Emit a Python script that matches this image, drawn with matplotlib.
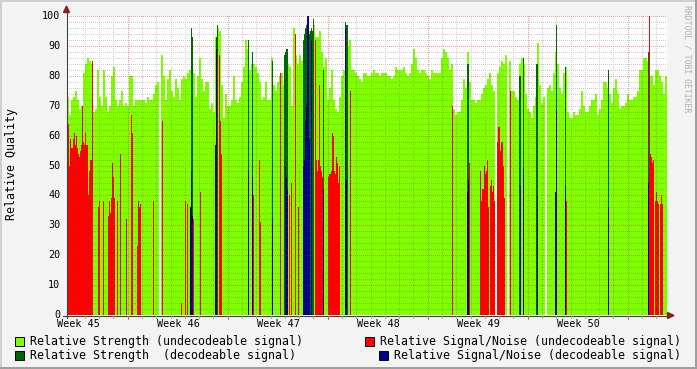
import numpy as np
import matplotlib
matplotlib.use("Agg")
import matplotlib.pyplot as plt
from matplotlib.patches import Rectangle, Polygon
from matplotlib.lines import Line2D

nan = np.nan

# ---------------- data ----------------
ROW_HOURS = 1.68          # one consolidated RRD row (6048 s)
LIME_STEP_ROWS = 2        # strength (undecodeable) sampled every 2 rows

strength_undec = [
    73, 67, 72, 73, 75, 72, 69, 70, 81, 84, 86, 85, 84, 68, 69, 82, 73, 70, 82, 73, 68, 70, 80, 83, 72,
    70, 72, 75, 70, 71, 70, 80, 80, 70, 72, 72, 72, 72, 72, 71, 73, 72, 72, 74, 77, 78, nan, 87, 80, 72,
    79, 82, 75, 73, 79, 76, 72, 79, 80, 79, 81, 82, 82, 81, 73, 80, 86, 79, 75, 78, 78, 69, 71, 68, 93,
    96, 95, 77, 66, 74, 70, 70, 72, 80, 72, 71, 73, 78, 83, 92, 89, 82, 84, 84, 83, 81, 78, 72, 73, 78,
    72, 72, 86, 77, 75, 78, 80, 81, 77, 80, 84, 83, 70, 96, 87, 84, 87, 85, 88, 90, 92, 95, 95, 97, 93,
    93, 95, 88, 83, 86, 72, 76, 82, 72, 69, 68, 73, 80, 82, 88, 90, 92, 82, 82, 81, 80, 79, 78, 81, 81,
    80, 80, 81, 82, 81, 81, 80, 81, 81, 81, 80, 80, 79, 80, 83, 82, 82, 82, 83, 81, 80, 81, 84, 89, 86,
    82, 81, 82, 82, 81, 80, 79, 82, 81, 81, 81, 81, 86, 89, 88, 86, 82, 84, 69, 67, 68, 68, 72, 79, 76,
    88, 78, 72, 72, 71, 72, 72, 74, 76, 77, 79, 81, 77, 75, nan, 81, 83, 85, 84, 87, nan, 85, 75, 75, 73,
    72, 84, 86, 84, 74, 69, 68, 66, 70, 73, 91, 77, 71, 73, nan, 76, 77, 75, 81, 88, 84, 76, 74, 81, 83,
    68, 66, 66, 68, 67, 67, 69, 75, 70, 68, 68, 70, 72, 72, 74, 67, 69, 72, 78, 78, 76, 74, 71, 76, 79,
    74, 69, 70, 70, 71, 74, 72, 72, 73, 73, 75, 82, 82, 86, 86, 85, 80, 80, 77, 82, 82, 80, 78, 74, 80,
]

snr_undec_rows = [
    0, 1, 2, 3, 4, 5, 6, 7, 8, 9, 10, 11, 12, 13, 14, 15, 16, 17, 18, 19, 20, 21, 22, 23, 24, 25,
    31, 32, 36, 41, 42, 43, 44, 45, 46, 47, 50, 53, 59, 64, 65, 70, 71, 72, 73, 86, 95,
    114, 118, 120, 126, 133, 152, 153, 154, 186, 192, 193,
    213, 222, 224, 228, 231, 248, 249, 250, 251, 252, 253, 254, 255,
    261, 262, 263, 264, 265, 266, 267, 268, 269, 270, 271, 272, 283,
    385, 402, 413, 414, 415, 416, 417, 418, 419, 420, 421, 423, 424, 425, 426, 427,
    430, 431, 432, 433, 434, 435, 436, 437, 443, 499,
    582, 583, 584, 585, 586, 588, 589, 590, 591, 593, 594, 595,
]
snr_undec_vals = [
    58, 64, 50, 59, 56, 56, 59, 61, 57, 60, 56, 54, 53, 55, 57, 70, 58, 57, 61, 57, 57, 40, 48, 52, 52, 85,
    36, 38, 38, 33, 38, 34, 39, 51, 46, 39, 38, 54, 32, 67, 61, 23, 38, 36, 37, 38, 65,
    4, 38, 37, 32, 41, 87, 65, 54, 40, 52, 31,
    81, 40, 44, 94, 36, 92, 52, 48, 52, 77, 50, 48, 46,
    46, 47, 47, 48, 61, 60, 48, 47, 53, 51, 44, 50, 75,
    70, 51, 48, 38, 42, 42, 50, 47, 48, 52, 36, 43, 45, 41, 43, 38,
    58, 63, 63, 55, 58, 58, 50, 39, 75, 38,
    100, 54, 53, 51, 52, 38, 41, 38, 37, 37, 40, 37,
]

strength_dec_rows = [123, 124, 125, 148, 149, 150, 181, 185, 205, 217, 218, 219, 220,
                     236, 237, 238, 239, 240, 241, 242, 243, 244, 245, 246, 256, 278, 279, 280,
                     400, 401, 452, 453, 456, 469, 470, 488, 489, 498, 541, 581]
strength_dec_vals = [36, 96, 93, 57, 93, 97, 92, 88, 85, 87, 88, 89, 89,
                     92, 94, 96, 97, 100, 100, 94, 95, 96, 95, 99, 82, 98, 97, 97,
                     84, 84, 80, 80, 86, 84, 84, 41, 97, 83, 82, 88]

snr_dec_rows = [123, 124, 125, 148, 149, 181, 185, 205, 218, 219, 220,
                236, 237, 238, 239, 240, 241, 242, 244, 256, 278, 279,
                400, 401, 453, 456, 470, 488, 489, 498, 541, 581]
snr_dec_vals = [36, 48, 33, 57, 89, 48, 46, 32, 50, 46, 42,
                50, 52, 65, 70, 100, 100, 59, 92, 42, 96, 45,
                41, 45, 43, 49, 40, 41, 69, 43, 36, 44]

week_labels = ["Week 45", "Week 46", "Week 47", "Week 48", "Week 49", "Week 50"]
y_ticks = list(range(0, 101, 10))
legend_labels = ["Relative Strength (undecodeable signal)",
                 "Relative Signal/Noise (undecodeable signal)",
                 "Relative Strength  (decodeable signal)",
                 "Relative Signal/Noise (decodeable signal)"]

# ---------------- styling ----------------
C_LIME = "#80FF00"
C_RED = "#FF0000"
C_DKGREEN = "#006600"
C_BLUE = "#00008C"
MONO = "DejaVu Sans Mono"

W, H = 697, 369
AX_L, AX_TOP, AX_W, AX_H = 67, 16, 600, 299
fig = plt.figure(figsize=(W / 100, H / 100), dpi=100, facecolor="#F3F3F3")


def fx(x):
    return x / W


def fy(y):
    return 1 - y / H


ax = fig.add_axes([fx(AX_L), fy(AX_TOP + AX_H), AX_W / W, AX_H / H])
ax.set_facecolor("white")
total_h = 600 * ROW_HOURS
for s in ax.spines.values():
    s.set_visible(False)

# lime area (strength, undecodeable)
sv = np.array(strength_undec, dtype=float)
lx = np.arange(len(sv)) * LIME_STEP_ROWS * ROW_HOURS
m = ~np.isnan(sv)
ax.bar(lx[m], sv[m], width=LIME_STEP_ROWS * ROW_HOURS, align="edge",
       color=C_LIME, linewidth=0, antialiased=False, zorder=1)


def sparse(rows, vals, color, z):
    r = np.array(rows, dtype=float) * ROW_HOURS
    ax.bar(r, vals, width=ROW_HOURS, align="edge", color=color,
           linewidth=0, antialiased=False, zorder=z)


sparse(snr_undec_rows, snr_undec_vals, C_RED, 2)
sparse(strength_dec_rows, strength_dec_vals, C_DKGREEN, 3)
sparse(snr_dec_rows, snr_dec_vals, C_BLUE, 4)

# dotted grid as a pixel overlay
px_per_unit = AX_H / 100.0
px_per_h = AX_W / total_h
grid = np.zeros((AX_H, AX_W, 4))
minor_c = np.array([0.35, 0.35, 0.35, 0.30])
major_c = np.array([0.80, 0.15, 0.15, 0.45])
day_lines = np.arange(30, total_h, 24)
week_lines = np.arange(102, total_h, 168)
for d in day_lines:
    if np.min(np.abs(week_lines - d)) < 1:
        continue
    c = int(round(d * px_per_h))
    if 0 <= c < AX_W:
        grid[0::2, c] = minor_c
for v in range(2, 101, 2):
    r = int(round((100 - v) * px_per_unit))
    r = min(max(r, 0), AX_H - 1)
    grid[r, 0::2] = major_c if v % 10 == 0 else minor_c
for wl in week_lines:
    c = int(round(wl * px_per_h))
    if 0 <= c < AX_W:
        grid[0::2, c] = major_c
ax.imshow(grid, extent=(0, total_h, 0, 100), origin="upper", interpolation="nearest",
          aspect="auto", zorder=5)
ax.set_xlim(0, total_h)
ax.set_ylim(0, 100)
ax.set_xticks([])
ax.set_yticks([])

# axes lines, ticks and arrows (figure pixel coordinates)
axis_c = "#404040"
arrow_c = "#8E1E1E"
fig.add_artist(Line2D([fx(66.5), fx(66.5)], [fy(318), fy(11)], color=axis_c, lw=0.8))
fig.add_artist(Line2D([fx(63), fx(668)], [fy(315.5), fy(315.5)], color=axis_c, lw=0.8))
fig.add_artist(Polygon([(fx(66.5), fy(6)), (fx(63.5), fy(12.5)), (fx(69.5), fy(12.5))],
                       closed=True, color=arrow_c, transform=fig.transFigure))
fig.add_artist(Polygon([(fx(674), fy(315.5)), (fx(667.5), fy(312.5)), (fx(667.5), fy(318.5))],
                       closed=True, color=arrow_c, transform=fig.transFigure))

for d in day_lines:
    xp = AX_L + d * px_per_h
    fig.add_artist(Line2D([fx(xp), fx(xp)], [fy(316), fy(318)], color="#A0A0A0", lw=0.7))
for wl in week_lines:
    xp = AX_L + wl * px_per_h
    fig.add_artist(Line2D([fx(xp), fx(xp)], [fy(316), fy(318.5)], color="#D06060", lw=0.7))

# tick labels
for v in y_ticks:
    yp = AX_TOP + AX_H - v * px_per_unit
    fig.text(fx(60.5), fy(yp), str(v), ha="right", va="center",
             family=MONO, fontsize=7.3, color="black")
for i, lab in enumerate(week_labels):
    h = 18.8 + 168 * i
    xp = AX_L + h * px_per_h
    fig.text(fx(xp), fy(324), lab, ha="center", va="center",
             family=MONO, fontsize=7.3, color="black")

# y label
fig.text(fx(12), fy(164), "Relative Quality", rotation=90, ha="center", va="center",
         family=MONO, fontsize=8.4, color="black")

# watermark
fig.text(fx(687), fy(5), "RRDTOOL / TOBI OETIKER", rotation=270, ha="center", va="top",
         family=MONO, fontsize=5.9, color="#B0B0B0")

# legend
legend_items = [
    (15, 337, C_LIME, 30, 341, legend_labels[0]),
    (365, 337, C_RED, 380, 341, legend_labels[1]),
    (15, 351, C_DKGREEN, 30, 355, legend_labels[2]),
    (379, 351, C_BLUE, 394, 355, legend_labels[3]),
]
for sx, sy, col, tx, ty, lab in legend_items:
    fig.add_artist(Rectangle((fx(sx), fy(sy + 9)), 9 / W, 9 / H, facecolor=col,
                             edgecolor="black", lw=0.7, transform=fig.transFigure))
    fig.text(fx(tx), fy(ty), lab, ha="left", va="center", family=MONO,
             fontsize=8.4, color="black")

# frame shading
fig.add_artist(Rectangle((0, fy(2)), 1, 2 / H, facecolor="#CFCFCF", lw=0, transform=fig.transFigure))
fig.add_artist(Rectangle((0, 0), 2 / W, 1, facecolor="#CFCFCF", lw=0, transform=fig.transFigure))
fig.add_artist(Rectangle((0, 0), 1, 2 / H, facecolor="#9E9E9E", lw=0, transform=fig.transFigure))
fig.add_artist(Rectangle((fx(695), 0), 2 / W, 1, facecolor="#9E9E9E", lw=0, transform=fig.transFigure))

fig.savefig("out.png", dpi=100, facecolor=fig.get_facecolor())
